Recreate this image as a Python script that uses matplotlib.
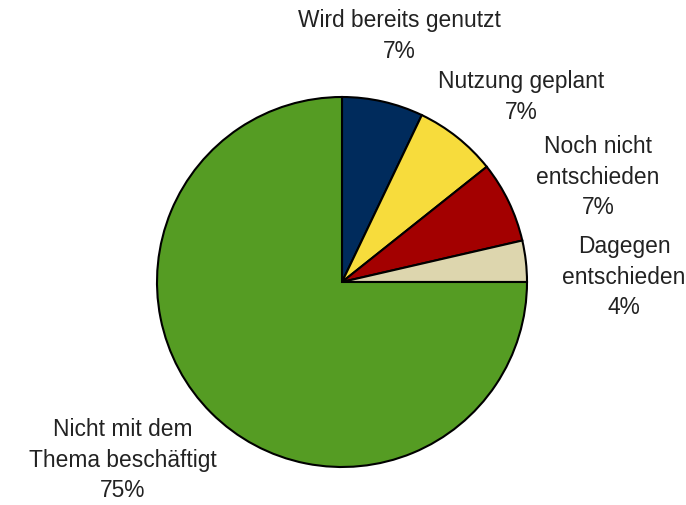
import matplotlib
matplotlib.use("Agg")
import matplotlib.pyplot as plt

# ============ Daten ===================
labels = ["Wird bereits genutzt", "Nutzung geplant", "Noch nicht\nentschieden",
          "Dagegen\nentschieden", "Nicht mit dem\nThema beschäftigt"]
values = [7.1, 7.2, 7.1, 3.6, 75.0]
pct_text = ["7%", "7%", "7%", "4%", "75%"]
colors = ["#002B5C", "#F7DC3C", "#A30000", "#DDD6AE", "#559C23"]

# Label-Positionen in Pixeln (x, y von oben)
label_pos = [(399, 36), (521, 97), (598, 177), (624, 277), (123, 460)]

W, H = 686, 505
fig = plt.figure(figsize=(W / 100, H / 100), dpi=100)
ax = fig.add_axes([0, 0, 1, 1])
ax.set_xlim(0, W)
ax.set_ylim(0, H)
ax.set_aspect("equal")
ax.axis("off")

ax.pie(values, colors=colors, startangle=90, counterclock=False,
       center=(342, H - 282), radius=185,
       wedgeprops=dict(edgecolor="black", linewidth=1.5))

for lab, pct, (x, y) in zip(labels, pct_text, label_pos):
    ax.text(x, H - y, f"{lab}\n{pct}", ha="center", va="center",
            fontsize=16.4, family="Liberation Sans", color="#222222",
            linespacing=1.42)

ax.set_xlim(0, W)
ax.set_ylim(0, H)
fig.savefig("out.png", dpi=100)
